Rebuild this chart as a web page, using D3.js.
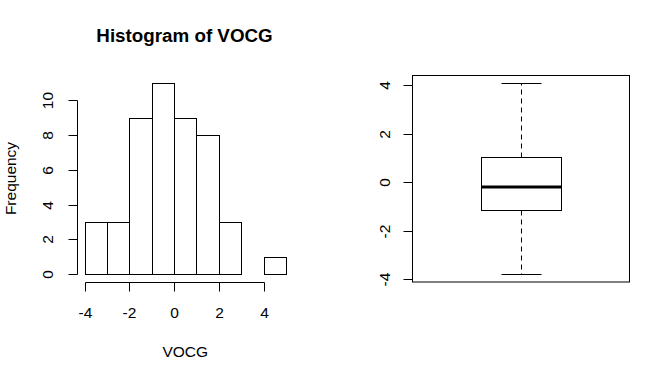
<!DOCTYPE html>
<html>
<head>
<meta charset="utf-8">
<script src="https://cdn.jsdelivr.net/npm/d3@7"></script>
<style>
  body { margin: 0; background: #fff; }
  svg text { font-family: "Liberation Sans", Arial, sans-serif; fill: #000; }
</style>
</head>
<body>
<div class="chart"></div>
<script>
// histogram of VOCG
var binEdges = [-4, -3, -2, -1, 0, 1, 2, 3, 4, 5];
var counts = [3, 3, 9, 11, 9, 8, 3, 0, 1];
var histXTicks = [-4, -2, 0, 2, 4];
var histYTicks = [0, 2, 4, 6, 8, 10];

// boxplot stats: lower whisker, Q1, median, Q3, upper whisker
var boxStats = [-3.79, -1.16, -0.19, 1.03, 4.09];
var boxYTicks = [-4, -2, 0, 2, 4];

var W = 660, H = 371;
var svg = d3.select(".chart").append("svg")
    .attr("width", W)
    .attr("height", H);

// R style: extend range by 4% each side
function rpad(lo, hi) {
    var d = (hi - lo) * 0.04;
    return [lo - d, hi + d];
}

var fs = 15.5;

// ---- histogram panel ----
var hp = {left: 76.5, right: 294, top: 75, bottom: 282};

var x = d3.scaleLinear()
    .domain(rpad(d3.min(binEdges), d3.max(binEdges)))
    .range([hp.left, hp.right]);
var y = d3.scaleLinear()
    .domain(rpad(0, d3.max(counts)))
    .range([hp.bottom, hp.top]);

var bins = counts.map(function(c, i) {
    return {x0: binEdges[i], x1: binEdges[i + 1], n: c};
});

svg.append("g").selectAll("rect")
    .data(bins)
    .enter().append("rect")
    .attr("x", function(d) { return Math.round(x(d.x0)) + 0.5; })
    .attr("y", function(d) { return Math.round(y(d.n)) + 0.5; })
    .attr("width", function(d) { return Math.round(x(d.x1)) - Math.round(x(d.x0)); })
    .attr("height", function(d) { return Math.round(y(0)) - Math.round(y(d.n)); })
    .style("fill", "none")
    .style("stroke", "#000")
    .style("stroke-width", 1);

// x axis (line only spans first to last tick, like R)
var xAxis = svg.append("g").attr("transform", "translate(0," + (hp.bottom + 0.5) + ")");
xAxis.append("line")
    .attr("x1", Math.round(x(histXTicks[0])) + 0.5)
    .attr("x2", Math.round(x(histXTicks[histXTicks.length - 1])) + 0.5)
    .style("stroke", "#000");
var xt = xAxis.selectAll(".tick")
    .data(histXTicks)
    .enter().append("g")
    .attr("transform", function(d) { return "translate(" + (Math.round(x(d)) + 0.5) + ",0)"; });
xt.append("line").attr("y2", 9).style("stroke", "#000");
xt.append("text")
    .attr("y", 35)
    .attr("text-anchor", "middle")
    .style("font-size", fs + "px")
    .text(function(d) { return d; });

// y axis
var yAxis = svg.append("g").attr("transform", "translate(" + (Math.round(hp.left) + 0.5) + ",0)");
yAxis.append("line")
    .attr("y1", Math.round(y(histYTicks[0])) + 0.5)
    .attr("y2", Math.round(y(histYTicks[histYTicks.length - 1])) + 0.5)
    .style("stroke", "#000");
var yt = yAxis.selectAll(".tick")
    .data(histYTicks)
    .enter().append("g")
    .attr("transform", function(d) { return "translate(0," + (Math.round(y(d)) + 0.5) + ")"; });
yt.append("line").attr("x2", -9).style("stroke", "#000");
yt.append("text")
    .attr("transform", "translate(-25,0) rotate(-90)")
    .attr("text-anchor", "middle")
    .style("font-size", fs + "px")
    .text(function(d) { return d; });

// titles
svg.append("text")
    .attr("x", 184.5)
    .attr("y", 42)
    .attr("text-anchor", "middle")
    .style("font-size", "18.8px")
    .style("font-weight", "bold")
    .text("Histogram of VOCG");

svg.append("text")
    .attr("x", (hp.left + hp.right) / 2)
    .attr("y", 356.5)
    .attr("text-anchor", "middle")
    .style("font-size", fs + "px")
    .text("VOCG");

svg.append("text")
    .attr("transform", "translate(15.5," + ((hp.top + hp.bottom) / 2) + ") rotate(-90)")
    .attr("text-anchor", "middle")
    .style("font-size", fs + "px")
    .text("Frequency");

// ---- boxplot panel ----
var bp = {left: 412.5, right: 629.5, top: 75, bottom: 282};

var bx = d3.scaleLinear()
    .domain(rpad(0.5, 1.5))
    .range([bp.left, bp.right]);
var by = d3.scaleLinear()
    .domain(rpad(boxStats[0], boxStats[4]))
    .range([bp.bottom, bp.top]);

var g = svg.append("g");
var cx = Math.round(bx(1)) + 0.5;
var boxL = Math.round(bx(0.8)) + 0.5, boxR = Math.round(bx(1.2)) + 0.5;
var capL = Math.round(bx(0.9)) + 0.5, capR = Math.round(bx(1.1)) + 0.5;
function py(v) { return Math.round(by(v)) + 0.5; }

// whiskers
g.append("line")
    .attr("x1", cx).attr("x2", cx)
    .attr("y1", py(boxStats[3])).attr("y2", py(boxStats[4]))
    .style("stroke", "#000").style("stroke-dasharray", "5,4");
g.append("line")
    .attr("x1", cx).attr("x2", cx)
    .attr("y1", py(boxStats[1])).attr("y2", py(boxStats[0]))
    .style("stroke", "#000").style("stroke-dasharray", "5,4");
// staples
[boxStats[0], boxStats[4]].forEach(function(v) {
    g.append("line")
        .attr("x1", capL).attr("x2", capR)
        .attr("y1", py(v)).attr("y2", py(v))
        .style("stroke", "#000");
});
// box
g.append("rect")
    .attr("x", boxL)
    .attr("y", py(boxStats[3]))
    .attr("width", boxR - boxL)
    .attr("height", py(boxStats[1]) - py(boxStats[3]))
    .style("fill", "none").style("stroke", "#000");
// median
g.append("line")
    .attr("x1", boxL).attr("x2", boxR)
    .attr("y1", Math.round(by(boxStats[2]))).attr("y2", Math.round(by(boxStats[2])))
    .style("stroke", "#000").style("stroke-width", 3);

// frame
svg.append("rect")
    .attr("x", bp.left).attr("y", bp.top + 0.5)
    .attr("width", bp.right - bp.left)
    .attr("height", bp.bottom - bp.top - 0.5)
    .style("fill", "none").style("stroke", "#000");

// y axis for boxplot
var byAxis = svg.append("g").attr("transform", "translate(" + bp.left + ",0)");
byAxis.append("line")
    .attr("y1", py(boxYTicks[0]))
    .attr("y2", py(boxYTicks[boxYTicks.length - 1]))
    .style("stroke", "#000");
var byt = byAxis.selectAll(".tick")
    .data(boxYTicks)
    .enter().append("g")
    .attr("transform", function(d) { return "translate(0," + py(d) + ")"; });
byt.append("line").attr("x2", -9).style("stroke", "#000");
byt.append("text")
    .attr("transform", "translate(-23,0) rotate(-90)")
    .attr("text-anchor", "middle")
    .style("font-size", fs + "px")
    .text(function(d) { return d; });
</script>
</body>
</html>
